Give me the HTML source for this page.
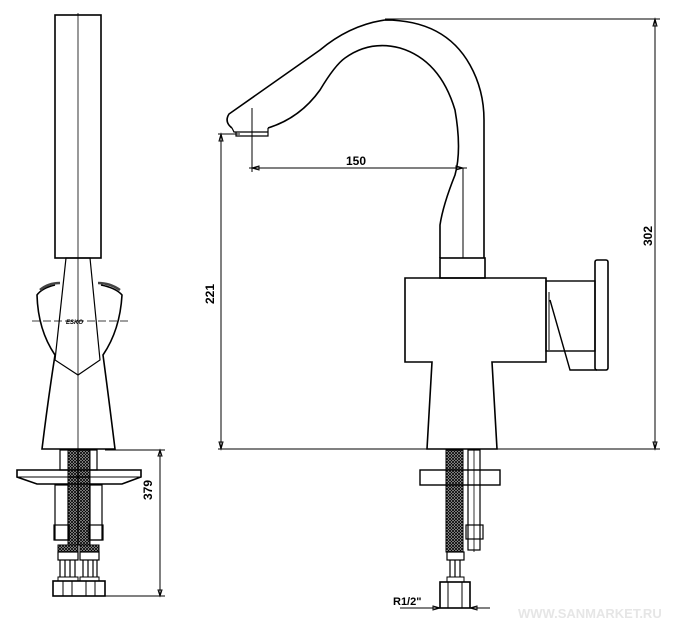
<!DOCTYPE html>
<html><head><style>
html,body{margin:0;padding:0;background:#fff;}
svg{display:block}
text{font-family:"Liberation Sans",sans-serif;font-weight:bold;fill:#000}
</style></head><body>
<svg width="673" height="626" viewBox="0 0 673 626" xmlns="http://www.w3.org/2000/svg">
<defs>
<pattern id="br" width="3" height="3" patternUnits="userSpaceOnUse">
<rect width="3" height="3" fill="#bbb"/>
<path d="M0 3L3 0M0 0L3 3" stroke="#000" stroke-width="0.8"/>
</pattern>
</defs>
<g fill="none" stroke="#000" stroke-width="1.6">
<!-- LEFT VIEW -->
<rect x="55" y="15" width="46" height="243"/>
<line x1="78" y1="13" x2="78" y2="449" stroke-width="0.8"/>
<path d="M66 258 L90 258 L100 360 L78 375 L55 360 Z" stroke-width="1.2"/>
<path d="M55 285 Q42 288 37 295 Q38 330 55 355 Q48 400 42 449 L115 449 Q109 400 103 355 Q120 330 122 295 Q116 288 101 285"/>
<path d="M40 290 Q48 283 60 283 M98 283 Q110 283 120 290" stroke-width="2.5" stroke="#444"/>
<line x1="32" y1="321" x2="128" y2="321" stroke-width="0.8" stroke-dasharray="8,3"/>
<text x="66" y="324" font-size="6" style="font-style:italic" stroke="none">ESKO</text>
<!-- left under-deck -->
<rect x="60" y="450" width="37" height="20" stroke-width="1.2"/>
<rect x="68" y="450" width="22" height="95" fill="url(#br)" stroke-width="1"/>
<line x1="78" y1="450" x2="78" y2="545" stroke-width="1"/>
<path d="M17 470 L141 470 L141 477 L122 484 L37 484 L17 477 Z"/>
<line x1="17" y1="477" x2="141" y2="477" stroke-width="1"/>
<rect x="55" y="485" width="13" height="55" stroke-width="1.2"/>
<rect x="90" y="485" width="12" height="55" stroke-width="1.2"/>
<rect x="54" y="525" width="15" height="15" stroke-width="1.2"/>
<rect x="89" y="525" width="14" height="15" stroke-width="1.2"/>
<rect x="58" y="545" width="20" height="7" fill="url(#br)" stroke-width="1"/>
<rect x="80" y="545" width="19" height="7" fill="url(#br)" stroke-width="1"/>
<rect x="58" y="552" width="20" height="8" stroke-width="1.2"/>
<rect x="80" y="552" width="19" height="8" stroke-width="1.2"/>
<path d="M60 560V577M65 560V577M70 560V577M75 560V577M83 560V577M88 560V577M93 560V577M97 560V577" stroke-width="1.2"/>
<rect x="58" y="577" width="20" height="4" stroke-width="1"/>
<rect x="80" y="577" width="19" height="4" stroke-width="1"/>
<rect x="53" y="581" width="52" height="15"/>
<path d="M63 581V596M72 581V596M86 581V596M95 581V596" stroke-width="1"/>
<!-- 379 dim -->
<line x1="105" y1="450" x2="165" y2="450" stroke-width="1"/>
<line x1="105" y1="596" x2="165" y2="596" stroke-width="1"/>
<line x1="160" y1="450" x2="160" y2="596" stroke-width="1"/>
<path d="M158 456L160 450L162 456ZM158 590L160 596L162 590Z" stroke-width="1"/>

<!-- RIGHT VIEW SPOUT -->
<path d="M232 128 Q224 122 229 114 L320 50 Q350 25 385 20 Q445 20 470 65 Q484 90 484 120 L484 258"/>
<path d="M268 128 Q300 118 320 90 Q335 65 345 58 Q370 40 400 48 Q440 60 455 110 Q462 150 455 175 Q443 205 440 225 L440 258"/>
<path d="M232 128 L234 132 L268 132 L268 128 M236 132 L236 136 L268 136 L268 128" stroke-width="1.2"/>
<rect x="440" y="258" width="45" height="20"/>
<path d="M405 278 L546 278 L546 362 L492 362 L497 449 L427 449 L432 362 L405 362 Z"/>
<rect x="546" y="281" width="49" height="70" stroke-width="1.4"/>
<line x1="549" y1="292" x2="549" y2="350" stroke-width="1"/>
<path d="M550 300 L570 370 L597 370" stroke-width="1.4"/>
<rect x="595" y="260" width="13" height="110" rx="2"/>
<!-- dims -->
<line x1="385" y1="19" x2="660" y2="19" stroke-width="1"/>
<line x1="218" y1="449" x2="660" y2="449" stroke-width="1"/>
<line x1="655" y1="19" x2="655" y2="449" stroke-width="1"/>
<path d="M653 26L655 19L657 26ZM653 442L655 449L657 442Z" stroke-width="1"/>
<line x1="218" y1="134" x2="240" y2="134" stroke-width="1"/>
<line x1="221" y1="134" x2="221" y2="449" stroke-width="1"/>
<path d="M219 141L221 134L223 141ZM219 442L221 449L223 442Z" stroke-width="1"/>
<line x1="252" y1="108" x2="252" y2="172" stroke-width="1"/>
<line x1="463" y1="168" x2="463" y2="258" stroke-width="1"/>
<line x1="249" y1="168" x2="467" y2="168" stroke-width="1"/>
<path d="M259 166L252 168L259 170ZM456 166L463 168L456 170Z" stroke-width="1"/>
<!-- right under-deck -->
<rect x="446" y="450" width="17" height="102" fill="url(#br)" stroke-width="1"/>
<rect x="420" y="470" width="80" height="15" stroke-width="1.4"/>
<rect x="468" y="450" width="12" height="100" stroke-width="1.2"/>
<line x1="474" y1="450" x2="474" y2="552" stroke-width="0.8"/>
<rect x="466" y="525" width="17" height="14" stroke-width="1.2"/>
<rect x="447" y="552" width="17" height="8" stroke-width="1.2"/>
<path d="M450 560V577M455 560V577M460 560V577" stroke-width="1.2"/>
<rect x="447" y="577" width="17" height="5" stroke-width="1"/>
<rect x="440" y="582" width="30" height="26"/>
<path d="M448 582V608M462 582V608" stroke-width="1"/>
<line x1="400" y1="608" x2="490" y2="608" stroke-width="1"/>
<path d="M433 606L440 608L433 610ZM477 606L470 608L477 610Z" stroke-width="1"/>
</g>
<text x="0" y="0" font-size="12" transform="translate(152,500) rotate(-90)">379</text>
<text x="0" y="0" font-size="12" transform="translate(214,304) rotate(-90)">221</text>
<text x="0" y="0" font-size="12" transform="translate(652,246) rotate(-90)">302</text>
<text x="346" y="165" font-size="12">150</text>
<text x="393" y="605" font-size="11">R1/2"</text>
<text x="518" y="618" font-size="13" style="font-weight:bold;fill:#e6e6e6">WWW.SANMARKET.RU</text>
</svg>
</body></html>
